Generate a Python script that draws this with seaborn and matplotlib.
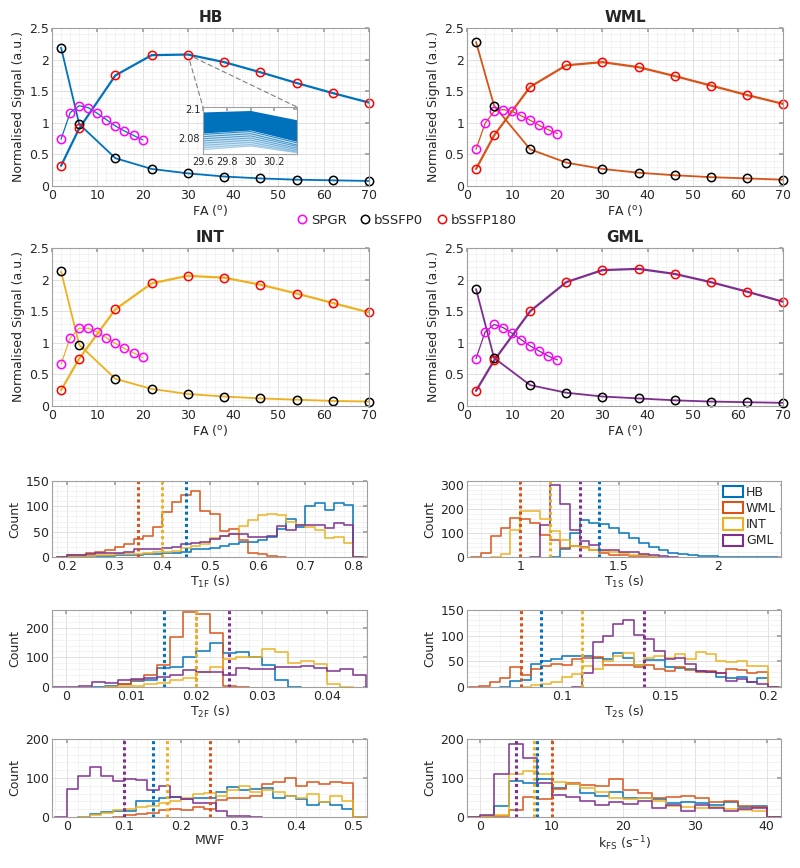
import numpy as np
import pandas as pd
import seaborn as sns
import matplotlib.pyplot as plt
from matplotlib.ticker import AutoMinorLocator, FuncFormatter
from matplotlib.patches import ConnectionPatch, Patch
from matplotlib.lines import Line2D

# Flip angles
fa_spgr = [2, 4, 6, 8, 10, 12, 14, 16, 18, 20]
fa_bssfp = [2, 6, 14, 22, 30, 38, 46, 54, 62, 70]

tissues = ["HB", "WML", "INT", "GML"]
colours = {"HB": "#0072BD", "WML": "#D95319", "INT": "#EDB120", "GML": "#7E2F8E"}

# Normalised signals
hb_spgr = [0.74, 1.16, 1.27, 1.24, 1.15, 1.05, 0.95, 0.87, 0.80, 0.73]
hb_bssfp0 = [2.19, 0.98, 0.44, 0.27, 0.20, 0.15, 0.12, 0.10, 0.09, 0.08]
hb_bssfp180 = [0.32, 0.91, 1.75, 2.07, 2.08, 1.96, 1.80, 1.63, 1.47, 1.32]

wml_spgr = [0.58, 0.99, 1.18, 1.21, 1.18, 1.11, 1.04, 0.96, 0.89, 0.83]
wml_bssfp0 = [2.28, 1.27, 0.58, 0.37, 0.27, 0.21, 0.17, 0.14, 0.12, 0.10]
wml_bssfp180 = [0.27, 0.80, 1.57, 1.91, 1.96, 1.88, 1.74, 1.59, 1.44, 1.30]

int_spgr = [0.66, 1.08, 1.23, 1.23, 1.17, 1.08, 0.99, 0.91, 0.84, 0.77]
int_bssfp0 = [2.13, 0.97, 0.43, 0.27, 0.19, 0.15, 0.12, 0.10, 0.08, 0.07]
int_bssfp180 = [0.25, 0.75, 1.53, 1.94, 2.06, 2.03, 1.92, 1.78, 1.63, 1.48]

gml_spgr = [0.75, 1.17, 1.29, 1.24, 1.15, 1.05, 0.95, 0.87, 0.79, 0.73]
gml_bssfp0 = [1.85, 0.76, 0.33, 0.21, 0.15, 0.12, 0.09, 0.07, 0.06, 0.05]
gml_bssfp180 = [0.24, 0.72, 1.50, 1.96, 2.15, 2.17, 2.09, 1.96, 1.81, 1.65]

# zoomed bundle in the HB inset
inset_fa = [29.6, 30.0, 30.4]
inset_top = [2.098, 2.099, 2.0924]
inset_bottom = [2.0835, 2.0855, 2.0775]
inset_tail = [[2.0825, 2.0845, 2.0765], [2.081, 2.083, 2.075], [2.0795, 2.0815, 2.074],
              [2.078, 2.080, 2.0728], [2.0765, 2.0785, 2.0718], [2.075, 2.077, 2.0708],
              [2.0735, 2.0755, 2.0702], [2.072, 2.0745, 2.0697]]

# histogram counts (start of first bin, bin width, counts per tissue)
t1f_start, t1f_width = 0.2, 0.02
t1f_hb = [1, 1, 1, 2, 2, 3, 3, 4, 5, 5, 7, 8, 9, 15, 16, 17, 21, 26, 30, 30, 34, 40, 55, 75, 60, 100, 107, 93, 107, 103]
t1f_wml = [3, 4, 8, 10, 14, 20, 25, 35, 42, 60, 88, 108, 123, 130, 90, 85, 52, 55, 33, 8, 5, 2]
t1f_int = [1, 2, 2, 3, 4, 5, 5, 6, 8, 10, 10, 12, 18, 22, 25, 38, 42, 45, 62, 73, 82, 85, 83, 70, 63, 60, 53, 38, 39, 27]
t1f_gml = [3, 4, 5, 7, 8, 8, 10, 16, 16, 16, 17, 19, 25, 28, 30, 35, 42, 45, 46, 40, 40, 42, 62, 53, 63, 63, 63, 57, 68, 63]

t1s_start, t1s_width = 0.8, 0.05
t1s_hb = [0, 0, 0, 0, 0, 0, 0, 0, 32, 99, 154, 140, 137, 119, 99, 78, 57, 40, 29, 18, 12, 7, 5, 4, 2, 2, 1, 1, 1]
t1s_wml = [18, 88, 122, 162, 158, 143, 93, 72, 38, 45, 42, 30, 15, 10, 8, 5, 3]
t1s_int = [0, 0, 13, 112, 193, 193, 157, 110, 72, 45, 36, 30, 25, 20, 15, 10, 8]
t1s_gml = [0, 0, 0, 0, 0, 0, 133, 300, 222, 112, 67, 50, 29, 29, 22, 22, 12, 8, 4]

t2f_start, t2f_width = 0.0, 0.002
t2f_hb = [0, 0, 0, 5, 10, 20, 25, 65, 67, 102, 121, 149, 116, 118, 100, 75, 25]
t2f_wml = [0, 0, 0, 0, 10, 22, 40, 75, 168, 252, 245, 181, 3]
t2f_int = [0, 0, 0, 0, 2, 5, 10, 15, 22, 30, 51, 68, 93, 102, 102, 127, 119, 82, 89, 79, 9]
t2f_gml = [1, 5, 16, 14, 22, 28, 30, 35, 40, 58, 50, 50, 42, 65, 60, 62, 68, 68, 72, 65, 55, 62, 40]

t2s_start, t2s_width = 0.06, 0.005
t2s_hb = [0, 0, 0, 12, 14, 45, 50, 55, 60, 60, 60, 57, 55, 67, 57, 42, 53, 53, 38, 37, 35, 32, 30, 20, 18, 20, 10, 17]
t2s_wml = [1, 10, 18, 38, 24, 35, 40, 45, 42, 55, 57, 58, 42, 42, 42, 38, 42, 36, 32, 38, 34, 30, 32, 28, 35, 33, 28, 30]
t2s_int = [0, 0, 0, 0, 0, 3, 5, 10, 20, 25, 40, 35, 50, 60, 67, 43, 57, 60, 57, 65, 55, 68, 65, 50, 48, 50, 40, 40]
t2s_gml = [0, 0, 0, 0, 0, 0, 0, 0, 0, 0, 27, 88, 100, 122, 130, 102, 93, 70, 55, 57, 45, 32, 30, 28, 12, 16, 10, 5]

mwf_start, mwf_width = 0.0, 0.02
mwf_hb = [0, 0, 8, 12, 15, 15, 40, 40, 48, 52, 45, 50, 50, 65, 78, 68, 72, 75, 50, 55, 45, 32, 38, 30, 20]
mwf_wml = [0, 0, 0, 0, 0, 5, 8, 10, 18, 20, 18, 25, 20, 43, 49, 49, 53, 84, 89, 99, 80, 89, 84, 89, 86]
mwf_int = [0, 0, 5, 10, 18, 20, 25, 28, 35, 40, 48, 60, 62, 55, 70, 80, 65, 70, 65, 55, 50, 60, 38, 55, 42]
mwf_gml = [72, 105, 128, 104, 93, 97, 95, 70, 80, 52, 45, 35, 35, 15, 3, 2]

kfs_start, kfs_width = 0.0, 2.0
kfs_hb = [3, 28, 93, 88, 97, 75, 85, 62, 55, 65, 50, 48, 45, 35, 38, 37, 30, 38, 25, 28]
kfs_wml = [1, 2, 18, 52, 45, 72, 88, 83, 80, 97, 68, 62, 48, 52, 53, 50, 38, 42, 28, 25]
kfs_int = [2, 5, 110, 117, 110, 90, 85, 75, 65, 48, 45, 48, 40, 28, 25, 22, 25, 20, 18, 15]
kfs_gml = [5, 110, 188, 152, 88, 57, 52, 40, 32, 38, 33, 42, 22, 30, 15, 30, 22, 15, 20, 22]

# true values (dotted lines), order HB, WML, INT, GML
t1f_truth = [0.45, 0.35, 0.40, None]
t1s_truth = [1.4, 1.0, 1.15, 1.3]
t2f_truth = [0.015, 0.02, 0.02, 0.025]
t2s_truth = [0.09, 0.08, 0.11, 0.14]
mwf_truth = [0.15, 0.25, 0.175, 0.10]
kfs_truth = [8, 10, 7.5, 5]

sns.set_theme(style="white")
plt.rcParams["font.family"] = ["DejaVu Sans"]
plt.rcParams["mathtext.fontset"] = "dejavusans"

fig = plt.figure(figsize=(8, 8.68), dpi=100)


def add_ax(l, t, r, b):
    return fig.add_axes([l / 800, 1 - b / 868, (r - l) / 800, (b - t) / 868])


fmt = FuncFormatter(lambda v, p: f"{v:g}")


def matlab_look(ax, grid=True, size=9):
    ax.xaxis.set_minor_locator(AutoMinorLocator(5))
    ax.yaxis.set_minor_locator(AutoMinorLocator(5))
    if grid:
        ax.grid(True, which="major", color="#dcdcdc", lw=0.6)
        ax.grid(True, which="minor", color="#eeeeee", lw=0.5)
    ax.set_axisbelow(True)
    for s in ax.spines.values():
        s.set_color("#a0a0a0")
        s.set_linewidth(0.8)
    ax.tick_params(which="major", direction="in", length=3, color="#a0a0a0",
                   labelcolor="#262626", labelsize=size, pad=2,
                   top=True, right=True)
    ax.tick_params(which="minor", length=0)
    ax.xaxis.set_major_formatter(fmt)
    ax.yaxis.set_major_formatter(fmt)


# ---- signal curves ----
signals = {
    "HB": (hb_spgr, hb_bssfp0, hb_bssfp180),
    "WML": (wml_spgr, wml_bssfp0, wml_bssfp180),
    "INT": (int_spgr, int_bssfp0, int_bssfp180),
    "GML": (gml_spgr, gml_bssfp0, gml_bssfp180),
}
sig_boxes = {"HB": (52, 28, 369, 186), "WML": (467, 28, 783, 186),
             "INT": (52, 248, 369, 406), "GML": (467, 248, 783, 406)}

sig_axes = {}
for t in tissues:
    ax = add_ax(*sig_boxes[t])
    sig_axes[t] = ax
    c = colours[t]
    s_spgr, s_b0, s_b180 = signals[t]
    sns.lineplot(x=fa_spgr, y=s_spgr, color=c, lw=0.9, ax=ax)
    sns.lineplot(x=fa_bssfp, y=s_b0, color=c, lw=1.3, ax=ax)
    sns.lineplot(x=fa_bssfp, y=s_b180, color=c, lw=1.6, ax=ax)
    ax.plot(fa_spgr, s_spgr, "o", mfc="none", mec="#ff00ff", ms=6, mew=1.1, clip_on=False)
    ax.plot(fa_bssfp, s_b0, "o", mfc="none", mec="black", ms=6, mew=1.1, clip_on=False)
    ax.plot(fa_bssfp, s_b180, "o", mfc="none", mec="#ff0000", ms=6, mew=1.1, clip_on=False)
    ax.set_xlim(0, 70)
    ax.set_ylim(0, 2.5)
    ax.set_xticks(range(0, 71, 10))
    ax.set_yticks([0, 0.5, 1, 1.5, 2, 2.5])
    matlab_look(ax)
    ax.set_title(t, fontweight="bold", fontsize=11, pad=4)
    ax.set_xlabel(r"FA ($^{\mathrm{o}}$)", fontsize=9, labelpad=1, color="#262626")
    ax.set_ylabel("Normalised Signal (a.u.)", fontsize=9, labelpad=3, color="#262626")

# inset on HB
ins = add_ax(203, 107, 297, 154)
ins.fill_between(inset_fa, inset_bottom, inset_top, color=colours["HB"], lw=0)
ins.fill_between(inset_fa, inset_tail[-1], inset_bottom, color=colours["HB"], alpha=0.18, lw=0)
for k, line in enumerate(inset_tail):
    sns.lineplot(x=inset_fa, y=line, color=colours["HB"], lw=0.7,
                 alpha=0.85 - 0.09 * k, ax=ins)
ins.set_xlim(29.6, 30.39)
ins.set_ylim(2.069, 2.1014)
ins.set_xticks([29.6, 29.8, 30, 30.2])
ins.set_yticks([2.08, 2.1])
matlab_look(ins, grid=False, size=7)
ins.set_facecolor("white")
for corner in [(0, 1), (1, 1)]:
    con = ConnectionPatch(xyA=(30, 2.08), coordsA=sig_axes["HB"].transData,
                          xyB=corner, coordsB=ins.transAxes,
                          ls=(0, (4, 3)), color="#808080", lw=0.8, shrinkA=5)
    fig.add_artist(con)

# marker legend
handles = [Line2D([], [], ls="", marker="o", mfc="none", mec=m, ms=6, mew=1.1, label=l)
           for m, l in [("#ff00ff", "SPGR"), ("black", "bSSFP0"), ("#ff0000", "bSSFP180")]]
fig.legend(handles=handles, loc="center", bbox_to_anchor=(406 / 800, 1 - 220 / 868),
           ncol=3, frameon=False, fontsize=9.5, handletextpad=0.2, columnspacing=0.9,
           handlelength=1.0, borderpad=0)

# ---- histograms ----
hists = [
    ("T1F", (52, 481, 367, 557), t1f_start, t1f_width, [t1f_hb, t1f_wml, t1f_int, t1f_gml], t1f_truth,
     (0.169, 0.829), [0.2, 0.3, 0.4, 0.5, 0.6, 0.7, 0.8], (0, 150), [0, 50, 100, 150], r"T$_{\mathrm{1F}}$ (s)"),
    ("T1S", (467, 481, 781, 557), t1s_start, t1s_width, [t1s_hb, t1s_wml, t1s_int, t1s_gml], t1s_truth,
     (0.73, 2.32), [1, 1.5, 2], (0, 316), [0, 100, 200, 300], r"T$_{\mathrm{1S}}$ (s)"),
    ("T2F", (52, 610, 367, 687), t2f_start, t2f_width, [t2f_hb, t2f_wml, t2f_int, t2f_gml], t2f_truth,
     (-0.0022, 0.0462), [0, 0.01, 0.02, 0.03, 0.04], (0, 260), [0, 100, 200], r"T$_{\mathrm{2F}}$ (s)"),
    ("T2S", (467, 610, 781, 687), t2s_start, t2s_width, [t2s_hb, t2s_wml, t2s_int, t2s_gml], t2s_truth,
     (0.054, 0.2065), [0.1, 0.15, 0.2], (0, 150), [0, 50, 100, 150], r"T$_{\mathrm{2S}}$ (s)"),
    ("MWF", (52, 739, 367, 817), mwf_start, mwf_width, [mwf_hb, mwf_wml, mwf_int, mwf_gml], mwf_truth,
     (-0.026, 0.524), [0, 0.1, 0.2, 0.3, 0.4, 0.5], (0, 200), [0, 100, 200], "MWF"),
    ("kFS", (467, 739, 781, 817), kfs_start, kfs_width, [kfs_hb, kfs_wml, kfs_int, kfs_gml], kfs_truth,
     (-1.8, 42), [0, 10, 20, 30, 40], (0, 200), [0, 100, 200], r"k$_{\mathrm{FS}}$ (s$^{\mathrm{-1}}$)"),
]

for name, box, start, width, counts, truth, xlim, xticks, ylim, yticks, xlabel in hists:
    ax = add_ax(*box)
    for t, cnt in zip(tissues, counts):
        cnt = np.asarray(cnt, dtype=float)
        first = np.nonzero(cnt)[0][0]
        cnt = cnt[first:]
        # one empty bin each side so the stairs rise from / drop to zero
        padded = np.concatenate([[0], cnt, [0]])
        edges = start + width * (np.arange(len(padded) + 1) - 1 + first)
        centres = (edges[:-1] + edges[1:]) / 2
        df = pd.DataFrame({"x": centres, "n": padded})
        sns.histplot(data=df, x="x", weights="n", bins=list(edges), element="step",
                     fill=False, color=colours[t], lw=1.2, alpha=0.9, ax=ax)
    for t, v in zip(tissues, truth):
        if v is not None:
            ax.axvline(v, color=colours[t], ls=(0, (1, 1)), lw=2.2)
    ax.set_xlim(*xlim)
    ax.set_ylim(*ylim)
    ax.set_xticks(xticks)
    ax.set_yticks(yticks)
    matlab_look(ax)
    ax.set_xlabel(xlabel, fontsize=9, labelpad=1, color="#262626")
    ax.set_ylabel("Count", fontsize=9, labelpad=3, color="#262626")
    if name == "T1S":
        leg_handles = [Patch(facecolor="none", edgecolor=colours[t], lw=1.5, label=t) for t in tissues]
        ax.legend(handles=leg_handles, loc="upper right", fontsize=9, frameon=True,
                  framealpha=1, edgecolor="white", fancybox=False, handlelength=1.6,
                  handleheight=1.0, labelspacing=0.25, handletextpad=0.2,
                  borderpad=0.2, borderaxespad=0.2)

fig.savefig("out.png", dpi=100)
